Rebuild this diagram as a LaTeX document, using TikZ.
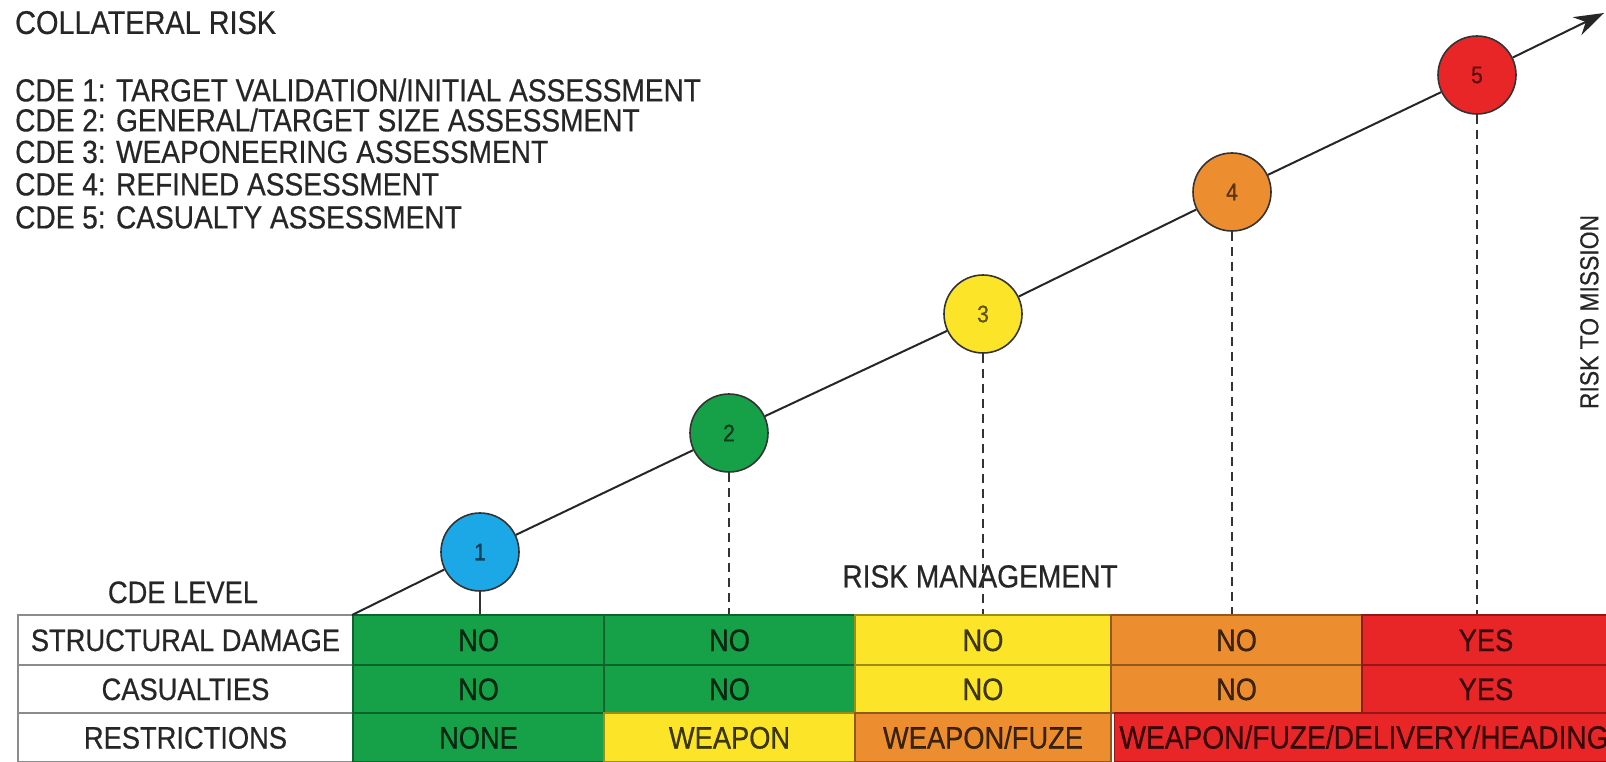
\documentclass[tikz,border=0pt]{standalone}
\usepackage{fontspec}
\setmainfont[FakeStretch=0.88,FakeBold=0.5]{Liberation Sans}
\usetikzlibrary{arrows.meta}
\definecolor{cgreen}{RGB}{22,160,72}
\definecolor{cyellow}{RGB}{252,228,40}
\definecolor{corange}{RGB}{236,142,48}
\definecolor{cred}{RGB}{232,38,40}
\definecolor{cblue}{RGB}{28,168,230}
\begin{document}
\begin{tikzpicture}[x=1pt,y=-1pt,
  txt/.style={inner sep=0pt, font=\fontsize{31}{31}\selectfont, text height=22pt, text depth=0pt, text=black!85},
  head/.style={txt, anchor=west, font=\fontsize{31.9}{31.9}\selectfont, text height=22.8pt},
  lab/.style={txt, draw=black!45, line width=2pt, fill=white, minimum width=335pt},
  cell/.style={txt, draw=#1!62!black, fill=#1, line width=1.3pt, text=black, text opacity=0.75},
  cde/.style={circle, draw=black!80, fill=#1, line width=1.6pt, minimum size=78pt, inner sep=0pt,
    font=\fontsize{24}{24}\selectfont, text=black, text opacity=0.6},
  mainln/.style={draw=black!85, line width=2pt},
  dashln/.style={draw=black!80, line width=1.5pt, dash pattern=on 9pt off 6pt}
]
\useasboundingbox (0,0) rectangle (1606,761);
\begin{scope}
\clip (0,0) rectangle (1606,761);
% header texts
\node[head, font=\fontsize{32.8}{32.8}\selectfont] (title) at (15,22.5) {COLLATERAL RISK};
\node[head] (d1) at (15,90) {CDE 1: TARGET VALIDATION/INITIAL ASSESSMENT};
\node[head] (d2) at (15,120) {CDE 2: GENERAL/TARGET SIZE ASSESSMENT};
\node[head] (d3) at (15,151.5) {CDE 3: WEAPONEERING ASSESSMENT};
\node[head] (d4) at (15,184) {CDE 4: REFINED ASSESSMENT};
\node[head] (d5) at (15,217) {CDE 5: CASUALTY ASSESSMENT};
\node[txt] (cdelevel) at (183,592) {CDE LEVEL};
\node[txt, font=\fontsize{32}{32}\selectfont, text height=22.9pt] (riskman) at (980,576) {RISK MANAGEMENT};
\node[txt, rotate=90, font=\fontsize{26}{26}\selectfont, text height=18.6pt] (rtm) at (1589,312) {RISK TO MISSION};
% table labels
\node[lab, minimum height=50pt] (l1) at (185.5,640) {STRUCTURAL DAMAGE};
\node[lab, minimum height=48pt] (l2) at (185.5,689) {CASUALTIES};
\node[lab, minimum height=49pt] (l3) at (185.5,737.5) {RESTRICTIONS};
% row 1
\node[cell=cgreen, minimum width=251pt, minimum height=50pt] (s1) at (478.5,640) {NO};
\node[cell=cgreen, minimum width=251pt, minimum height=50pt] (s2) at (729.5,640) {NO};
\node[cell=cyellow, minimum width=256pt, minimum height=50pt] (s3) at (983,640) {NO};
\node[cell=corange, minimum width=251pt, minimum height=50pt] (s4) at (1236.5,640) {NO};
\node[cell=cred, minimum width=248pt, minimum height=50pt] (s5) at (1486,640) {YES};
% row 2
\node[cell=cgreen, minimum width=251pt, minimum height=48pt] (k1) at (478.5,689) {NO};
\node[cell=cgreen, minimum width=251pt, minimum height=48pt] (k2) at (729.5,689) {NO};
\node[cell=cyellow, minimum width=256pt, minimum height=48pt] (k3) at (983,689) {NO};
\node[cell=corange, minimum width=251pt, minimum height=48pt] (k4) at (1236.5,689) {NO};
\node[cell=cred, minimum width=248pt, minimum height=48pt] (k5) at (1486,689) {YES};
% row 3
\node[cell=cgreen, minimum width=251pt, minimum height=49pt] (r1) at (478.5,737.5) {NONE};
\node[cell=cyellow, minimum width=251pt, minimum height=49pt] (r2) at (729.5,737.5) {WEAPON};
\node[cell=corange, minimum width=256pt, minimum height=49pt] (r3) at (983,737.5) {WEAPON/FUZE};
\node[cell=cred, minimum width=499pt, minimum height=49pt, font=\fontsize{32}{32}\selectfont] (r4) at (1364,737.5) {WEAPON/FUZE/DELIVERY/HEADING};
% CDE circles
\node[cde=cblue] (c1) at (480,552) {1};
\node[cde=cgreen] (c2) at (729,433) {2};
\node[cde=cyellow] (c3) at (983,314) {3};
\node[cde=corange] (c4) at (1232,192) {4};
\node[cde=cred] (c5) at (1477,75) {5};
\coordinate (start) at (352,615);
\coordinate (tip) at (1604,13);
% main rising line
\draw[mainln] (start) -- (c1);
\draw[mainln] (c1) -- (c2);
\draw[mainln] (c2) -- (c3);
\draw[mainln] (c3) -- (c4);
\draw[mainln] (c4) -- (c5);
\draw[mainln, -{Stealth[length=30pt,width=20pt]}] (c5) -- (tip);
% drop lines
\draw[draw=black!80, line width=1.5pt] (c1.south) -- (c1.south |- s1.north);
\draw[dashln] (c2.south) -- (c2.south |- s2.north);
\draw[dashln] (c3.south) -- (c3.south |- s3.north);
\draw[dashln] (c4.south) -- (c4.south |- s4.north);
\draw[dashln] (c5.south) -- (c5.south |- s5.north);
\end{scope}
\end{tikzpicture}
\end{document}
